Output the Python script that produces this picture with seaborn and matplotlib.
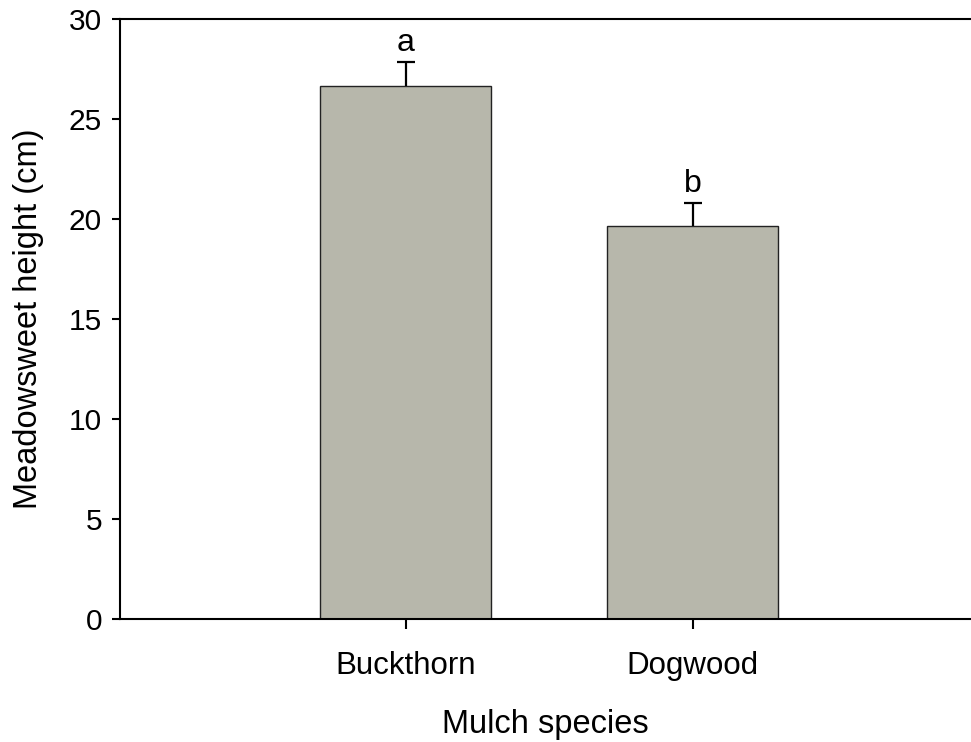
import matplotlib
matplotlib.use("Agg")
import matplotlib.pyplot as plt
import seaborn as sns
import pandas as pd

categories = ["Buckthorn", "Dogwood"]
heights = [26.65, 19.65]
se = [1.2, 1.15]
letters = ["a", "b"]

sns.set_theme(style="ticks")
plt.rcParams['font.family'] = ['Liberation Sans', 'DejaVu Sans']
plt.rcParams['text.color'] = 'black'
plt.rcParams['axes.labelcolor'] = 'black'
plt.rcParams['xtick.color'] = 'black'
plt.rcParams['ytick.color'] = 'black'

df = pd.DataFrame({"species": categories, "height": heights})

fig = plt.figure(figsize=(9.71, 7.42), dpi=100)
ax = fig.add_axes([120/971, 123/742, 1 - 120/971, 600/742])

sns.barplot(data=df, x="species", y="height", ax=ax, color="#b7b7ab",
            saturation=1, width=0.596, edgecolor="#222222", linewidth=1.0,
            errorbar=None)

xs = list(range(len(categories)))
eb = ax.errorbar(xs, heights, yerr=[[0]*len(se), se], fmt="none",
                 ecolor="black", elinewidth=1.6, capsize=6.5, capthick=1.6, zorder=3)
# keep only the upper caps
caps = eb.lines[1]
if len(caps) == 2:
    caps[0].remove()

for x, h, s, l in zip(xs, heights, se, letters):
    ax.text(x, h + s + 0.22, l, ha="center", va="bottom", fontsize=23, color="black")

ax.set_xlim(-0.995, 1.97)
ax.set_ylim(0, 30)
ax.set_yticks([0, 5, 10, 15, 20, 25, 30])
ax.set_ylabel("Meadowsweet height (cm)", fontsize=23.5, labelpad=18)
ax.set_xlabel("Mulch species", fontsize=23.5, labelpad=20)

ax.tick_params(axis="y", labelsize=21.5, length=6, width=1.5, direction="out", pad=7)
ax.tick_params(axis="x", labelsize=22.5, length=7, width=1.5, direction="out", pad=16)
for sp in ["left", "bottom", "top"]:
    ax.spines[sp].set_linewidth(1.5)
    ax.spines[sp].set_color("black")
ax.spines["right"].set_visible(False)
ax.spines["top"].set_visible(True)

fig.savefig("out.png", dpi=100)
